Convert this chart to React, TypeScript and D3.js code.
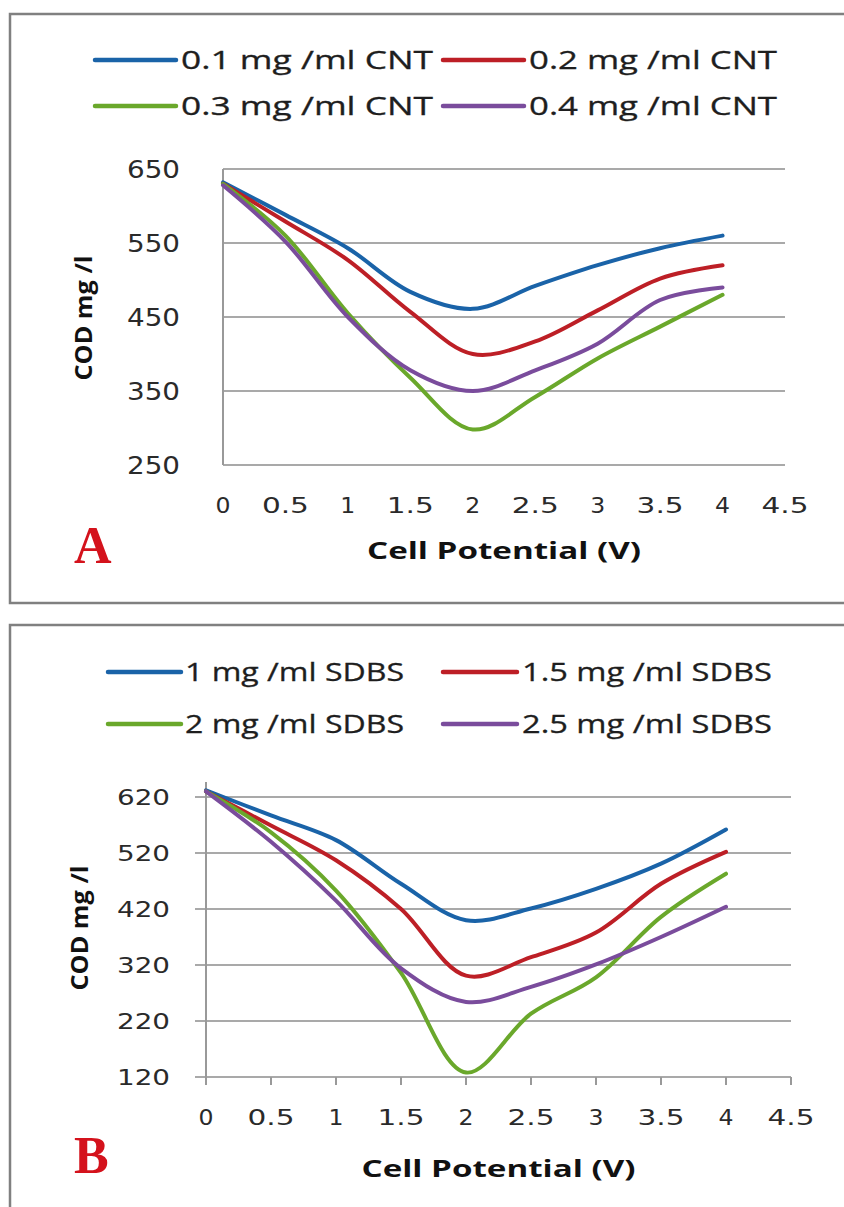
import React from "react";
import * as d3 from "d3";

// ---------- data ----------
const xValues = [0, 0.5, 1, 1.5, 2, 2.5, 3, 3.5, 4];
const xTicks = [0, 0.5, 1, 1.5, 2, 2.5, 3, 3.5, 4, 4.5];

const cntLabels = ["0.1 mg /ml CNT", "0.2 mg /ml CNT", "0.3 mg /ml CNT", "0.4 mg /ml CNT"];
const cnt01 = [632, 588, 543, 484, 461, 492, 520, 543, 560];
const cnt02 = [630, 579, 527, 457, 400, 417, 459, 502, 520];
const cnt03 = [630, 560, 455, 368, 298, 342, 394, 437, 480];
const cnt04 = [628, 552, 450, 378, 350, 378, 414, 473, 490];
const yTicksA = [250, 350, 450, 550, 650];

const sdbsLabels = ["1 mg /ml SDBS", "1.5 mg /ml SDBS", "2 mg /ml SDBS", "2.5 mg /ml SDBS"];
const sdbs1 = [632, 587, 543, 465, 400, 421, 456, 501, 562];
const sdbs15 = [630, 569, 507, 420, 301, 334, 378, 465, 522];
const sdbs2 = [630, 557, 453, 306, 128, 233, 298, 406, 483];
const sdbs25 = [630, 540, 435, 314, 254, 281, 321, 370, 424];
const yTicksB = [120, 220, 320, 420, 520, 620];

const colors = ["#1a63a8", "#bd1f26", "#6aa82b", "#7a4c9c"];

const SANS = "'Open Sans', 'DejaVu Sans', sans-serif";
const WIDE = "'DejaVu Sans', sans-serif";
const SERIF = "'Liberation Serif', 'DejaVu Serif', serif";

function tickWidth(s: string) {
  let w = 0;
  for (const c of s) w += c === "." ? 17 : 15;
  return w;
}

type PanelProps = {
  series: number[][];
  labels: string[];
  yTicks: number[];
  xRange: [number, number];
  yRange: [number, number];
  yDomain: [number, number];
  box: { y: number; h: number };
  legend: { rows: number[]; lineX: [number, number][]; textX: number[]; textLen: number[] };
  yTickRight: number;
  yTickSize: number;
  yTitle: { x: number; y: number };
  xTickBase: number;
  xTitleBase: number;
  letter: string;
  letterBase: number;
  excelStyle: boolean;
  axisTop?: number;
};

function Panel(p: PanelProps) {
  const x = d3.scaleLinear().domain([0, 4.5]).range(p.xRange);
  const y = d3.scaleLinear().domain(p.yDomain).range(p.yRange);
  const line = d3
    .line<[number, number]>()
    .x((d) => x(d[0]))
    .y((d) => y(d[1]))
    .curve(d3.curveCatmullRom.alpha(0.5));
  const gridStart = p.excelStyle ? p.xRange[0] - 11 : p.xRange[0];
  const axisTopY = p.axisTop !== undefined ? y(p.axisTop) : p.yRange[1];
  return (
    <g>
      <rect x={10} y={p.box.y} width={860} height={p.box.h} fill="#fff" stroke="#808080" strokeWidth={2.5} />
      {/* legend */}
      {p.labels.map((lab, i) => {
        const row = Math.floor(i / 2);
        const col = i % 2;
        const cy = p.legend.rows[row];
        return (
          <g key={lab}>
            <line
              x1={p.legend.lineX[col][0]}
              x2={p.legend.lineX[col][1]}
              y1={cy}
              y2={cy}
              stroke={colors[i]}
              strokeWidth={4.5}
              strokeLinecap="round"
            />
            <text
              x={p.legend.textX[col]}
              y={cy + 9}
              fontFamily={SANS}
              fontSize={25}
              fill="#1e1e1e"
              stroke="#1e1e1e"
              strokeWidth={0.3}
              textLength={p.legend.textLen[col]}
              lengthAdjust="spacingAndGlyphs"
            >
              {lab}
            </text>
          </g>
        );
      })}
      {/* gridlines */}
      {p.yTicks.map((t) => (
        <line key={t} x1={gridStart} x2={p.xRange[1]} y1={y(t)} y2={y(t)} stroke="#a9a9a9" strokeWidth={2} />
      ))}
      {/* y axis line */}
      <line x1={p.xRange[0]} x2={p.xRange[0]} y1={axisTopY} y2={p.yRange[0]} stroke="#999" strokeWidth={2} />
      {p.excelStyle &&
        xTicks.map((t) => (
          <line key={t} x1={x(t)} x2={x(t)} y1={p.yRange[0]} y2={p.yRange[0] + 8} stroke="#999" strokeWidth={2} />
        ))}
      {/* y tick labels */}
      {p.yTicks.map((t) => (
        <text
          key={t}
          x={p.yTickRight}
          y={y(t) + p.yTickSize * 0.36}
          textAnchor="end"
          fontFamily={WIDE}
          fontSize={p.yTickSize}
          fill="#2a2a2a"
          textLength={53}
          lengthAdjust="spacingAndGlyphs"
        >
          {t}
        </text>
      ))}
      {/* x tick labels */}
      {xTicks.map((t) => {
        const s = String(t);
        return (
          <text
            key={t}
            x={x(t)}
            y={p.xTickBase}
            textAnchor="middle"
            fontFamily={WIDE}
            fontSize={21}
            fill="#2a2a2a"
            textLength={tickWidth(s)}
            lengthAdjust="spacingAndGlyphs"
          >
            {s}
          </text>
        );
      })}
      {/* series */}
      {p.series.map((vals, i) => (
        <path
          key={i}
          d={line(xValues.map((xv, j) => [xv, vals[j]] as [number, number])) || ""}
          fill="none"
          stroke={colors[i]}
          strokeWidth={4}
          strokeLinecap="round"
          strokeLinejoin="round"
        />
      ))}
      {/* axis titles */}
      <text
        transform={`translate(${p.yTitle.x + 8},${p.yTitle.y}) rotate(-90)`}
        textAnchor="middle"
        fontFamily={SANS}
        fontWeight="bold"
        fontSize={23}
        fill="#111"
        textLength={125}
        lengthAdjust="spacingAndGlyphs"
      >
        COD mg /l
      </text>
      <text
        x={(p.xRange[0] + p.xRange[1]) / 2}
        y={p.xTitleBase}
        textAnchor="middle"
        fontFamily={SANS}
        fontWeight="bold"
        fontSize={24}
        fill="#111"
        textLength={274}
        lengthAdjust="spacingAndGlyphs"
      >
        Cell Potential (V)
      </text>
      <text x={74} y={p.letterBase} fontFamily={SERIF} fontWeight="bold" fontSize={52} fill="#d4121c">
        {p.letter}
      </text>
    </g>
  );
}

export default function App() {
  return (
    <svg
      width={844}
      height={1207}
      viewBox="0 0 844 1207"
      style={{ position: "absolute", left: 0, top: 0, background: "#fff" }}
    >
      <rect x={0} y={0} width={844} height={1207} fill="#fff" />
      <Panel
        series={[cnt01, cnt02, cnt03, cnt04]}
        labels={cntLabels}
        yTicks={yTicksA}
        xRange={[223, 785]}
        yRange={[465, 169]}
        yDomain={[250, 650]}
        box={{ y: 14, h: 589 }}
        legend={{ rows: [60, 106], lineX: [[95, 176], [443, 524]], textX: [181, 529], textLen: [252, 248] }}
        yTickRight={180}
        yTickSize={24}
        yTitle={{ x: 84, y: 318 }}
        xTickBase={513}
        xTitleBase={559}
        letter="A"
        letterBase={563}
        excelStyle={false}
      />
      <Panel
        series={[sdbs1, sdbs15, sdbs2, sdbs25]}
        labels={sdbsLabels}
        yTicks={yTicksB}
        xRange={[206, 791]}
        yRange={[1077, 797]}
        yDomain={[120, 620]}
        box={{ y: 625, h: 620 }}
        legend={{ rows: [672, 724], lineX: [[108, 181], [443, 517]], textX: [185, 522], textLen: [219, 250] }}
        yTickRight={170}
        yTickSize={21}
        yTitle={{ x: 80, y: 928 }}
        xTickBase={1125}
        xTitleBase={1177}
        letter="B"
        letterBase={1173}
        excelStyle={true}
        axisTop={647}
      />
    </svg>
  );
}
